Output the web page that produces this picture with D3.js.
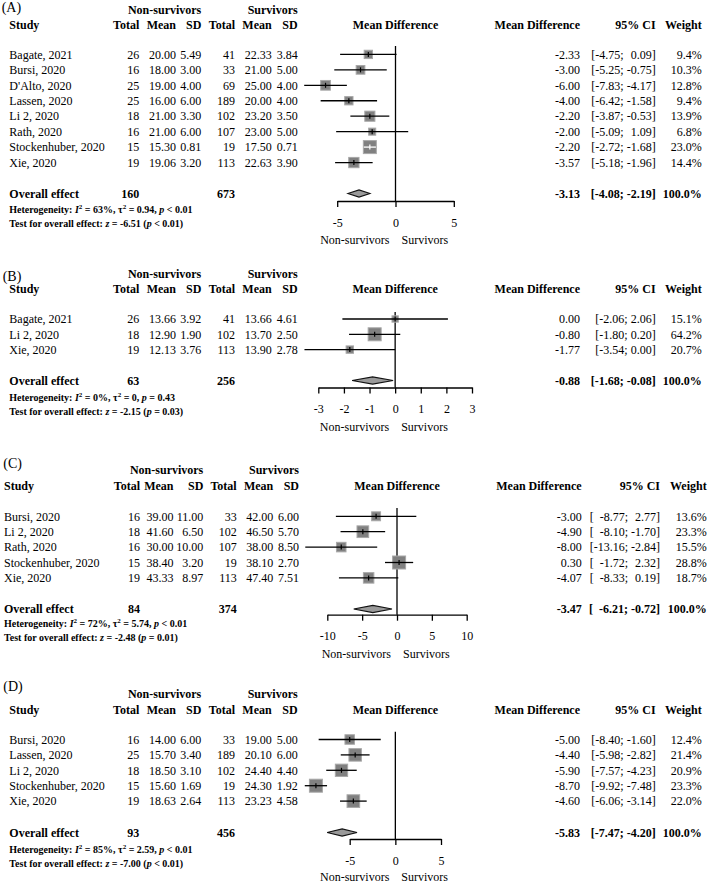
<!DOCTYPE html>
<html><head><meta charset="utf-8">
<script src="https://cdn.jsdelivr.net/npm/d3@7"></script>
<style>
body{margin:0;background:#fff}
svg{display:block}
text{font-family:"Liberation Serif","Times New Roman",Times,serif;fill:#000}
</style>
</head><body>
<svg id="c" width="709" height="884"></svg>
<script>
// ---------- DATA ----------
// Panel A
const labelA = "(A)";
const studiesA = ["Bagate, 2021","Bursi, 2020","D'Alto, 2020","Lassen, 2020","Li 2, 2020","Rath, 2020","Stockenhuber, 2020","Xie, 2020"];
const nTotalA = [26,16,25,25,18,16,15,19];
const nMeanA  = [20.00,18.00,19.00,16.00,21.00,21.00,15.30,19.06];
const nSDA    = [5.49,3.00,4.00,6.00,3.30,6.00,0.81,3.20];
const sTotalA = [41,33,69,189,102,107,19,113];
const sMeanA  = [22.33,21.00,25.00,20.00,23.20,23.00,17.50,22.63];
const sSDA    = [3.84,5.00,4.00,4.00,3.50,5.00,0.71,3.90];
const mdA     = [-2.33,-3.00,-6.00,-4.00,-2.20,-2.00,-2.20,-3.57];
const loA     = [-4.75,-5.25,-7.83,-6.42,-3.87,-5.09,-2.72,-5.18];
const hiA     = [0.09,-0.75,-4.17,-1.58,-0.53,1.09,-1.68,-1.96];
const weightA = [9.4,10.3,12.8,9.4,13.9,6.8,23.0,14.4];
const overallA = {n1:160, n2:673, md:-3.13, lo:-4.08, hi:-2.19, w:100.0};
const hetA = {i2:"63%", tau2:"0.94", p:"< 0.01", z:"-6.51", pz:"< 0.01"};
const ticksA = [-5,0,5];

// Panel B
const labelB = "(B)";
const studiesB = ["Bagate, 2021","Li 2, 2020","Xie, 2020"];
const nTotalB = [26,18,19];
const nMeanB  = [13.66,12.90,12.13];
const nSDB    = [3.92,1.90,3.76];
const sTotalB = [41,102,113];
const sMeanB  = [13.66,13.70,13.90];
const sSDB    = [4.61,2.50,2.78];
const mdB     = [0.00,-0.80,-1.77];
const loB     = [-2.06,-1.80,-3.54];
const hiB     = [2.06,0.20,0.00];
const weightB = [15.1,64.2,20.7];
const overallB = {n1:63, n2:256, md:-0.88, lo:-1.68, hi:-0.08, w:100.0};
const hetB = {i2:"0%", tau2:"0", p:"= 0.43", z:"-2.15", pz:"= 0.03"};
const ticksB = [-3,-2,-1,0,1,2,3];

// Panel C
const labelC = "(C)";
const studiesC = ["Bursi, 2020","Li 2, 2020","Rath, 2020","Stockenhuber, 2020","Xie, 2020"];
const nTotalC = [16,18,16,15,19];
const nMeanC  = [39.00,41.60,30.00,38.40,43.33];
const nSDC    = [11.00,6.50,10.00,3.20,8.97];
const sTotalC = [33,102,107,19,113];
const sMeanC  = [42.00,46.50,38.00,38.10,47.40];
const sSDC    = [6.00,5.70,8.50,2.70,7.51];
const mdC     = [-3.00,-4.90,-8.00,0.30,-4.07];
const loC     = [-8.77,-8.10,-13.16,-1.72,-8.33];
const hiC     = [2.77,-1.70,-2.84,2.32,0.19];
const weightC = [13.6,23.3,15.5,28.8,18.7];
const overallC = {n1:84, n2:374, md:-3.47, lo:-6.21, hi:-0.72, w:100.0};
const hetC = {i2:"72%", tau2:"5.74", p:"< 0.01", z:"-2.48", pz:"= 0.01"};
const ticksC = [-10,-5,0,5,10];

// Panel D
const labelD = "(D)";
const studiesD = ["Bursi, 2020","Lassen, 2020","Li 2, 2020","Stockenhuber, 2020","Xie, 2020"];
const nTotalD = [16,25,18,15,19];
const nMeanD  = [14.00,15.70,18.50,15.60,18.63];
const nSDD    = [6.00,3.40,3.10,1.69,2.64];
const sTotalD = [33,189,102,19,113];
const sMeanD  = [19.00,20.10,24.40,24.30,23.23];
const sSDD    = [5.00,6.00,4.40,1.92,4.58];
const mdD     = [-5.00,-4.40,-5.90,-8.70,-4.60];
const loD     = [-8.40,-5.98,-7.57,-9.92,-6.06];
const hiD     = [-1.60,-2.82,-4.23,-7.48,-3.14];
const weightD = [12.4,21.4,20.9,23.3,22.0];
const overallD = {n1:93, n2:456, md:-5.83, lo:-7.47, hi:-4.20, w:100.0};
const hetD = {i2:"85%", tau2:"2.59", p:"< 0.01", z:"-7.00", pz:"< 0.01"};
const ticksD = [-5,0,5];

// ---------- LAYOUT ----------
const colsStd = {study:9.3, t1:139.3, m1:176, s1:201.3, t2:235, m2:271.7, s2:297.7, md:580, ci:655.7, wt:701.7};
const colsC   = {study:4,   t1:140,   m1:173.5, s1:203.3, t2:236.7, m2:273.3, s2:299, md:581.7, ci:660, wt:706.7};

const panels = [
  {label:labelA, studies:studiesA, nT:nTotalA, nM:nMeanA, nS:nSDA, sT:sTotalA, sM:sMeanA, sS:sSDA, md:mdA, lo:loA, hi:hiA, w:weightA, ov:overallA, het:hetA, ticks:ticksA,
   L:{cols:colsStd, labX:1.7, labY:7, h1:9.5, h2:24.5, row0:54.4, step:15.45, ovY:193.5, hetY:209.5, testY:223.5, zeroTop:46, axisY:201, range:[337.2,453.8]}},
  {label:labelB, studies:studiesB, nT:nTotalB, nM:nMeanB, nS:nSDB, sT:sTotalB, sM:sMeanB, sS:sSDB, md:mdB, lo:loB, hi:hiB, w:weightB, ov:overallB, het:hetB, ticks:ticksB,
   L:{cols:colsStd, labX:2.7, labY:276, h1:274, h2:289, row0:319, step:15.3, ovY:380.5, hetY:397, testY:411, zeroTop:312, axisY:387.5, range:[318.3,472]}},
  {label:labelC, studies:studiesC, nT:nTotalC, nM:nMeanC, nS:nSDC, sT:sTotalC, sM:sMeanC, sS:sSDC, md:mdC, lo:loC, hi:hiC, w:weightC, ov:overallC, het:hetC, ticks:ticksC,
   L:{cols:colsC, labX:3.3, labY:463.3, h1:470, h2:485.7, row0:516.3, step:15.4, ovY:609, hetY:623.5, testY:637.5, zeroTop:508, axisY:614.7, range:[327.3,466.7]}},
  {label:labelD, studies:studiesD, nT:nTotalD, nM:nMeanD, nS:nSDD, sT:sTotalD, sM:sMeanD, sS:sSDD, md:mdD, lo:loD, hi:hiD, w:weightD, ov:overallD, het:hetD, ticks:ticksD,
   L:{cols:colsStd, labX:3.3, labY:685.7, h1:693.3, h2:710, row0:739.5, step:15.4, ovY:832.5, hetY:849.3, testY:863.3, zeroTop:731.7, axisY:839, range:[349.7,441]}}
];

const svg = d3.select("#c");
const f2 = v => v.toFixed(2);
const FS = 12;

function txt(g, x, y, s, anchor, opts={}) {
  return g.append("text").attr("x", x).attr("y", y).attr("dy","0.35em")
    .attr("text-anchor", anchor || "start")
    .style("font-size", (opts.size||FS)+"px")
    .style("font-weight", opts.bold ? "bold" : "normal")
    .style("white-space","pre")
    .text(s);
}

function richLine(g, x, y, parts, size) {
  const t = g.append("text").attr("x", x).attr("y", y).attr("dy","0.35em")
    .style("font-size", size+"px").style("font-weight","bold").style("white-space","pre");
  let shift = 0;
  parts.forEach(p => {
    const ts = t.append("tspan").text(p.t);
    if (p.i) ts.style("font-style","italic");
    if (p.sup) { ts.attr("dy", -4).style("font-size", (size*0.7)+"px"); shift = 4; }
    else if (shift) { ts.attr("dy", shift); shift = 0; }
  });
  return t;
}

panels.forEach(P => {
  const L = P.L, C = L.cols;
  const g = svg.append("g");
  const x = d3.scaleLinear().domain([P.ticks[0], P.ticks[P.ticks.length-1]]).range(L.range);
  const y = d3.scaleLinear().domain([0,1]).range([L.row0, L.row0 + L.step]);
  const wmax = d3.max(P.w);
  const size = d3.scaleSqrt().domain([0, wmax]).range([0, 13]);

  txt(g, L.labX, L.labY, P.label, "start", {size:14});
  txt(g, C.s1, L.h1, "Non-survivors", "end", {bold:true});
  txt(g, C.s2, L.h1, "Survivors", "end", {bold:true});
  txt(g, C.study, L.h2, "Study", "start", {bold:true});
  [["Total",C.t1],["Mean",C.m1],["SD",C.s1],["Total",C.t2],["Mean",C.m2],["SD",C.s2]]
    .forEach(([s,xx]) => txt(g, xx, L.h2, s, "end", {bold:true}));
  txt(g, x(0), L.h2, "Mean Difference", "middle", {bold:true});
  txt(g, C.md, L.h2, "Mean Difference", "end", {bold:true});
  txt(g, C.ci, L.h2, "95% CI", "end", {bold:true});
  txt(g, C.wt, L.h2, "Weight", "end", {bold:true});

  const tmp = g.append("text").style("font-size", FS+"px");
  const wid = s => { tmp.text(s); return tmp.node().getComputedTextLength(); };
  const hiStr = P.hi.map(v => f2(v) + "]");
  const loStr = P.lo.map(v => f2(v) + ";");
  const maxHi = d3.max(hiStr, wid);
  const maxLo = d3.max(loStr, wid);
  const loEnd = C.ci - maxHi - FS*0.25;
  const brX = loEnd - maxLo - wid("[");
  tmp.remove();

  P.studies.forEach((s, i) => {
    const yy = y(i);
    txt(g, C.study, yy, s, "start");
    txt(g, C.t1, yy, String(P.nT[i]), "end");
    txt(g, C.m1, yy, f2(P.nM[i]), "end");
    txt(g, C.s1, yy, f2(P.nS[i]), "end");
    txt(g, C.t2, yy, String(P.sT[i]), "end");
    txt(g, C.m2, yy, f2(P.sM[i]), "end");
    txt(g, C.s2, yy, f2(P.sS[i]), "end");
    txt(g, C.md, yy, f2(P.md[i]), "end");
    txt(g, brX, yy, "[", "start");
    txt(g, loEnd, yy, loStr[i], "end");
    txt(g, C.ci, yy, hiStr[i], "end");
    txt(g, C.wt, yy, P.w[i].toFixed(1) + "%", "end");
  });

  g.append("line").attr("x1", x(0)).attr("x2", x(0)).attr("y1", L.zeroTop).attr("y2", L.axisY)
    .attr("stroke","#000").attr("stroke-width",1.3);

  P.studies.forEach((s, i) => {
    const yy = y(i), sz = size(P.w[i]);
    const x1 = x(P.lo[i]), x2 = x(P.hi[i]), xm = x(P.md[i]);
    g.append("rect").attr("x", xm - sz/2).attr("y", yy - sz/2).attr("width", sz).attr("height", sz)
      .attr("fill","#808080").attr("stroke","#a8a8a8").attr("stroke-width",1);
    const inside = (x2 - x1) < sz;
    const col = inside ? "#fff" : "#000";
    g.append("line").attr("x1", x1).attr("x2", x2).attr("y1", yy).attr("y2", yy)
      .attr("stroke", col).attr("stroke-width",1.3);
    g.append("line").attr("x1", xm).attr("x2", xm).attr("y1", yy - 2.5).attr("y2", yy + 2.5)
      .attr("stroke", col).attr("stroke-width",1.2);
  });

  const O = P.ov;
  txt(g, C.study, L.ovY, "Overall effect", "start", {bold:true});
  txt(g, C.t1, L.ovY, String(O.n1), "end", {bold:true});
  txt(g, C.t2, L.ovY, String(O.n2), "end", {bold:true});
  txt(g, C.md, L.ovY, f2(O.md), "end", {bold:true});
  const maxLoChars = d3.max(P.lo.concat([O.lo]), v => f2(v).length);
  const padLo = " ".repeat((maxLoChars - f2(O.lo).length) * 2);
  const maxHiChars = d3.max(P.hi.concat([O.hi]), v => f2(v).length);
  const padHi = " ".repeat(Math.max(1, (maxHiChars - f2(O.hi).length) * 2 + 1));
  txt(g, C.ci, L.ovY, "[" + padLo + f2(O.lo) + ";" + padHi + f2(O.hi) + "]", "end", {bold:true});
  txt(g, C.wt, L.ovY, O.w.toFixed(1) + "%", "end", {bold:true});

  const dh = 3.6;
  const pts = [[x(O.lo), L.ovY], [x(O.md), L.ovY - dh], [x(O.hi), L.ovY], [x(O.md), L.ovY + dh]];
  g.append("path").attr("d", d3.line()(pts) + "Z")
    .attr("fill","#9a9a9a").attr("stroke","#111").attr("stroke-width",1.1);

  const H = P.het;
  richLine(g, C.study, L.hetY, [
    {t:"Heterogeneity: "}, {t:"I", i:true}, {t:"2", sup:true}, {t:" = " + H.i2 + ", "},
    {t:"\u03c4"}, {t:"2", sup:true}, {t:" = " + H.tau2 + ", "}, {t:"p", i:true}, {t:" " + H.p}
  ], 10);
  richLine(g, C.study, L.testY, [
    {t:"Test for overall effect: "}, {t:"z", i:true}, {t:" = " + H.z + " ("}, {t:"p", i:true}, {t:" " + H.pz + ")"}
  ], 10);

  const ax = d3.axisBottom(x).tickValues(P.ticks).tickSize(6).tickSizeOuter(0).tickPadding(11)
    .tickFormat(d => String(d));
  const ag = g.append("g").attr("transform", `translate(0,${L.axisY})`).call(ax);
  ag.select(".domain").attr("stroke","#000").attr("stroke-width",1.3);
  ag.selectAll(".tick line").attr("stroke","#000").attr("stroke-width",1.3);
  ag.selectAll(".tick text").style("font-size", FS+"px")
    .style("font-family",'"Liberation Serif","Times New Roman",serif').attr("fill","#000");
  ag.attr("font-family", null).attr("font-size", null);

  const ty = Math.min(L.axisY + 39, 876.3);
  txt(g, x(0) - 6, ty, "Non-survivors", "end");
  txt(g, x(0) + 6, ty, "Survivors", "start");
});
</script>
</body></html>
